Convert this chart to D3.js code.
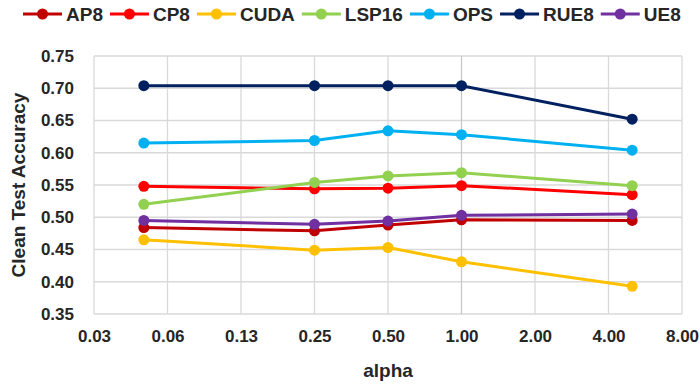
<!doctype html>
<html>
  <head>
    <meta charset="utf-8">
    <title>Clean Test Accuracy vs alpha</title>
    <script src="https://d3js.org/d3.v7.min.js"></script>
    <style type="text/css">
      body { margin: 0; background-color: #ffffff; }
      text { font-family: "Liberation Sans", Arial, sans-serif; font-weight: bold; fill: #262626; }
    </style>
  </head>
  <body>
    <script>
      // data
      var alphas = [0.05, 0.25, 0.5, 1, 5];
      var seriesNames = ["AP8", "CP8", "CUDA", "LSP16", "OPS", "RUE8", "UE8"];
      var seriesColors = ["#c00000", "#ff0000", "#ffc000", "#92d050", "#00b0f0", "#002060", "#7030a0"];
      var ap8   = [0.484, 0.479, 0.488, 0.496, 0.495];
      var cp8   = [0.548, 0.544, 0.545, 0.549, 0.535];
      var cuda  = [0.465, 0.449, 0.453, 0.431, 0.393];
      var lsp16 = [0.520, 0.554, 0.564, 0.569, 0.549];
      var ops   = [0.615, 0.619, 0.634, 0.628, 0.604];
      var rue8  = [0.704, 0.704, 0.704, 0.704, 0.652];
      var ue8   = [0.495, 0.489, 0.494, 0.503, 0.505];
      var seriesValues = [ap8, cp8, cuda, lsp16, ops, rue8, ue8];
      var xTicks = [0.03125, 0.0625, 0.125, 0.25, 0.5, 1, 2, 4, 8];
      var xTickLabels = ["0.03", "0.06", "0.13", "0.25", "0.50", "1.00", "2.00", "4.00", "8.00"];
      var yTicks = [0.35, 0.40, 0.45, 0.50, 0.55, 0.60, 0.65, 0.70, 0.75];

      var w = 700, h = 385;
      var plotL = 94, plotR = 682, plotT = 56, plotB = 314;

      var svg = d3.select("body").append("svg")
        .attr("width", w)
        .attr("height", h);

      var x = d3.scaleLog().base(2).domain([0.03125, 8]).range([plotL, plotR]);
      var y = d3.scaleLinear().domain([0.35, 0.75]).range([plotB, plotT]);

      // gridlines
      var grid = svg.append("g");
      grid.selectAll("line.h")
        .data(yTicks)
        .enter().append("line")
        .attr("x1", plotL).attr("x2", plotR)
        .attr("y1", function(d) { return y(d); })
        .attr("y2", function(d) { return y(d); })
        .style("stroke", "#d9d9d9").style("stroke-width", 1.3);
      grid.selectAll("line.v")
        .data(xTicks)
        .enter().append("line")
        .attr("y1", plotT).attr("y2", plotB)
        .attr("x1", function(d) { return x(d); })
        .attr("x2", function(d) { return x(d); })
        .style("stroke", function(d) { return d === 1 ? "#c8c8c8" : "#d9d9d9"; })
        .style("stroke-width", 1.3);

      // axes labels
      var yAxis = d3.axisLeft(y).tickValues(yTicks).tickFormat(d3.format(".2f")).tickSize(0).tickPadding(20);
      var gy = svg.append("g").attr("transform", "translate(" + plotL + ",0)").call(yAxis);
      var xAxis = d3.axisBottom(x).tickValues(xTicks)
        .tickFormat(function(d, i) { return xTickLabels[i]; }).tickSize(0).tickPadding(16);
      var gx = svg.append("g").attr("transform", "translate(0," + plotB + ")").call(xAxis);
      [gx, gy].forEach(function(g) {
        g.select(".domain").remove();
        g.selectAll("text")
          .style("font-size", "17px")
          .style("font-family", "'Liberation Sans', Arial, sans-serif")
          .style("font-weight", "bold")
          .style("fill", "#262626");
      });

      svg.append("text")
        .attr("transform", "translate(25," + ((plotT + plotB) / 2) + ") rotate(-90)")
        .attr("text-anchor", "middle")
        .style("font-size", "19px")
        .text("Clean Test Accuracy");

      svg.append("text")
        .attr("x", (plotL + plotR) / 2)
        .attr("y", 377)
        .attr("text-anchor", "middle")
        .style("font-size", "19px")
        .text("alpha");

      // series lines and markers
      var line = d3.line()
        .x(function(d, i) { return x(alphas[i]); })
        .y(function(d) { return y(d); });

      var layer = svg.append("g");
      seriesValues.forEach(function(vals, s) {
        var g = layer.append("g");
        g.append("path")
          .attr("d", line(vals))
          .style("fill", "none")
          .style("stroke", seriesColors[s])
          .style("stroke-width", 3);
        g.selectAll("circle")
          .data(vals)
          .enter().append("circle")
          .attr("cx", function(d, i) { return x(alphas[i]); })
          .attr("cy", function(d) { return y(d); })
          .attr("r", 5.5)
          .style("fill", seriesColors[s]);
      });

      // legend
      var legend = svg.append("g");
      var lx = 23, ly = 14;
      seriesNames.forEach(function(name, s) {
        var item = legend.append("g").attr("transform", "translate(" + lx + "," + ly + ")");
        item.append("line")
          .attr("x1", 0).attr("x2", 39)
          .style("stroke", seriesColors[s]).style("stroke-width", 3);
        item.append("circle")
          .attr("cx", 19.5).attr("r", 5.5)
          .style("fill", seriesColors[s]);
        var t = item.append("text")
          .attr("x", 43).attr("y", 7)
          .style("font-size", "19px")
          .text(name);
        lx += 43 + t.node().getComputedTextLength() + 7;
      });
    </script>
  </body>
</html>
